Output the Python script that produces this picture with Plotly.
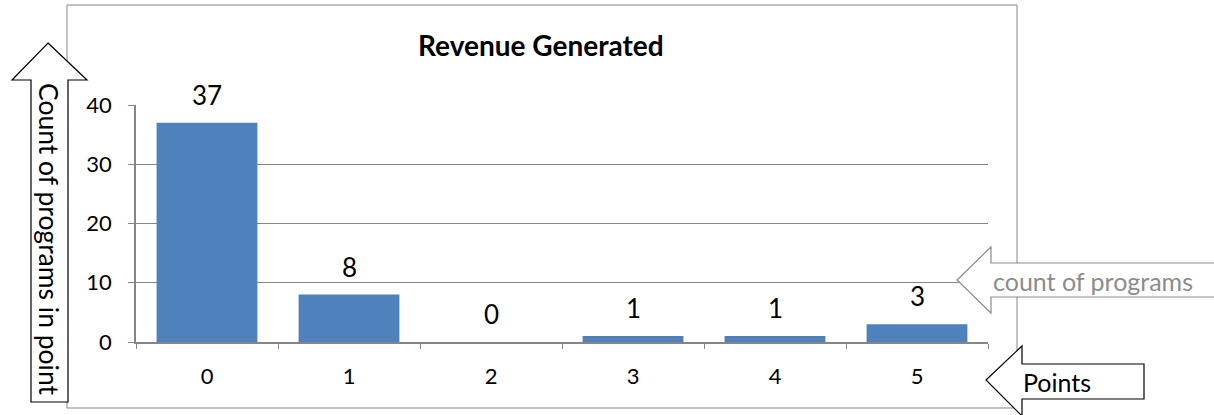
import plotly.graph_objects as go

# data
points = ["0", "1", "2", "3", "4", "5"]
program_counts = [37, 8, 0, 1, 1, 3]

chart_title = "Revenue Generated"
y_note = "Count of programs in point"
bar_note = "count of programs"
x_note = "Points"

W, H = 1214, 415
L, R, T, B = 136, 226, 105, 73
PW, PH = W - L - R, H - T - B
GRAY = "#868686"
FONT = "Lato"


def px(x, y):
    """pixel position -> paper coordinates"""
    return (x - L) / PW, (H - B - y) / PH


def arrow_path(pts):
    cmds = []
    for i, (x, y) in enumerate(pts):
        xp, yp = px(x, y)
        cmds.append(("M" if i == 0 else "L") + f"{xp:.5f},{yp:.5f}")
    return " ".join(cmds) + " Z"


def note(x, y, text, size, color="black", angle=0):
    xp, yp = px(x, y)
    return dict(x=xp, y=yp, xref="paper", yref="paper", text=text, textangle=angle,
                xanchor="center", yanchor="middle", showarrow=False,
                font=dict(family=FONT, size=size, color=color))


fig = go.Figure()

fig.add_trace(go.Bar(
    x=points,
    y=program_counts,
    marker=dict(color="#4F81BD", line=dict(width=0)),
    width=0.71,
    hoverinfo="skip",
))

# value labels above the bars
annotations = [
    dict(x=p, y=v, xref="x", yref="y", text=str(v), showarrow=False,
         xanchor="center", yanchor="middle", yshift=28,
         font=dict(family=FONT, size=26, color="black"))
    for p, v in zip(points, program_counts)
]

annotations.append(note(541, 45, "<b>" + chart_title + "</b>", 28))

shapes = []
# chart frame
x0, y0 = px(67, 5)
x1, y1 = px(1017, 408)
shapes.append(dict(type="rect", xref="paper", yref="paper", x0=x0, y0=y1, x1=x1, y1=y0,
                   line=dict(color=GRAY, width=1), layer="below"))

# up arrow on the left
shapes.append(dict(type="path", xref="paper", yref="paper",
                   path=arrow_path([(48, 43), (87, 80), (68, 80), (68, 402), (31, 402), (31, 80), (12, 80)]),
                   fillcolor="white", line=dict(color="black", width=1.2), layer="above"))
annotations.append(note(49, 239, y_note, 26.5, angle=90))

# gray arrow pointing at the bars
shapes.append(dict(type="path", xref="paper", yref="paper",
                   path=arrow_path([(957, 280), (991, 247), (991, 263), (1220, 263), (1220, 297),
                                    (991, 297), (991, 313)]),
                   fillcolor="white", line=dict(color="#8C8C8C", width=1.2), layer="above"))
annotations.append(note(1093, 281, bar_note, 25, color="#8C8C8C"))

# arrow pointing at the x axis
shapes.append(dict(type="path", xref="paper", yref="paper",
                   path=arrow_path([(986, 380), (1022, 346), (1022, 364), (1144, 364), (1144, 399),
                                    (1022, 399), (1022, 416)]),
                   fillcolor="white", line=dict(color="black", width=1.2), layer="above"))
annotations.append(note(1057, 382, x_note, 25))

fig.update_layout(
    width=W, height=H,
    margin=dict(l=L, r=R, t=T, b=B),
    paper_bgcolor="white", plot_bgcolor="white",
    showlegend=False,
    bargap=0.29,
    shapes=shapes,
    annotations=annotations,
    font=dict(family=FONT, size=22, color="black"),
    xaxis=dict(type="category", showgrid=False, showline=True, linecolor=GRAY, linewidth=1.5,
               ticks="outside", tickson="boundaries", ticklen=5, tickcolor=GRAY,
               tickfont=dict(size=22), ticklabelstandoff=14),
    yaxis=dict(range=[0, 40], dtick=10, showgrid=True, gridcolor=GRAY, gridwidth=1,
               showline=True, linecolor=GRAY, linewidth=1.5, ticks="outside", ticklen=6,
               tickcolor=GRAY, tickfont=dict(size=22), ticklabelstandoff=12, zeroline=False),
)

# the page has a default body margin; drop it so the figure sits at the window corner
fig.write_html("out.html", config={"displayModeBar": False},
               post_script="document.body.style.margin='0';")
